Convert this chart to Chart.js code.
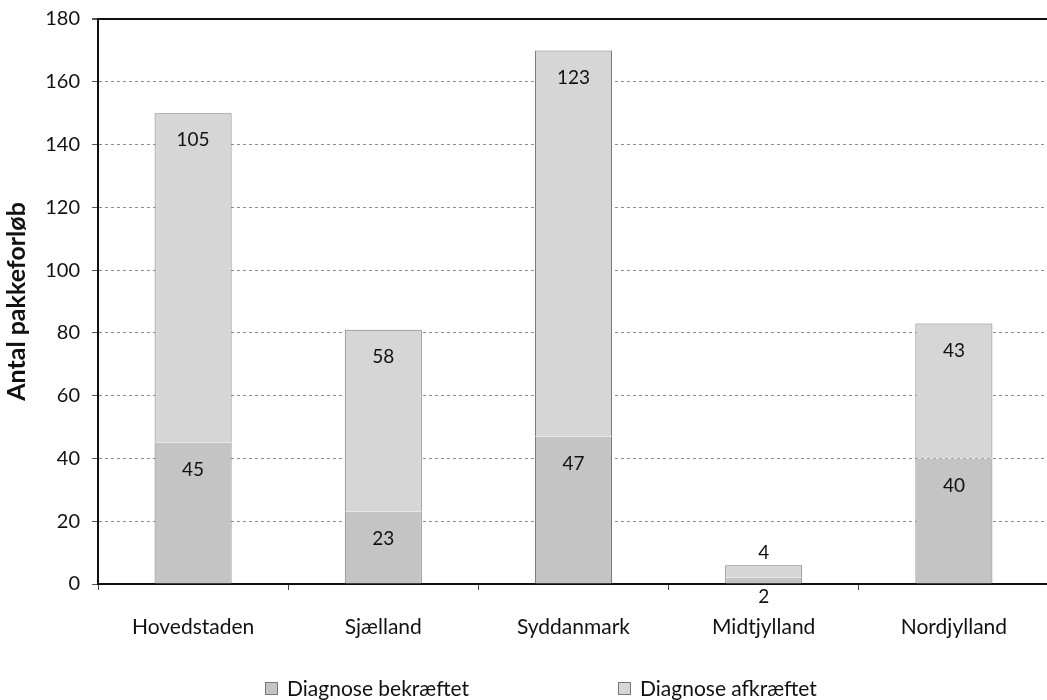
<!DOCTYPE html>
<html>
<head>
<meta charset="utf-8">
<script src="https://cdn.jsdelivr.net/npm/chart.js@4.4.0/dist/chart.umd.min.js"></script>
<style>
  html, body { margin: 0; padding: 0; background: #fff; overflow: hidden; }
  #wrap { position: relative; width: 1047px; height: 700px; overflow: hidden; }
  #c { position: absolute; left: 0; top: -5px; }
  .lg { position: absolute; top: 676px; font-family: Lato, sans-serif; font-size: 21px;
        color: #111; white-space: nowrap; line-height: 24px; }
  .lg i { position: absolute; top: 6px; width: 11px; height: 11px; border: 1px solid #777; }
</style>
</head>
<body>
<div id="wrap">
  <canvas id="c" width="1060" height="705"></canvas>
  <div id="legend"></div>
</div>
<script>
// data
const regions = ['Hovedstaden', 'Sjælland', 'Syddanmark', 'Midtjylland', 'Nordjylland'];
const confirmed = [45, 23, 47, 2, 40];     // Diagnose bekræftet
const rejected  = [105, 58, 123, 4, 43];   // Diagnose afkræftet
const seriesNames = ['Diagnose bekræftet', 'Diagnose afkræftet'];
const yMax = 180;
const yStep = 20;

const FILL = ['#c4c4c4', '#d6d6d6'];
const EDGE = '#7a7a7a';
const FONT = 'Lato';

// Excel style "inside end" value labels; tiny segments get pushed outside
const valueLabels = {
  id: 'valueLabels',
  afterDatasetsDraw(chart) {
    const ctx = chart.ctx;
    ctx.save();
    ctx.font = '19px ' + FONT;
    ctx.fillStyle = '#111';
    ctx.textAlign = 'center';
    ctx.textBaseline = 'middle';
    chart.data.datasets.forEach((ds, di) => {
      chart.getDatasetMeta(di).data.forEach((bar, i) => {
        const p = bar.getProps(['x', 'y', 'base'], true);
        const h = p.base - p.y;
        let ly;
        if (h >= 40) ly = p.y + 27;
        else if (di === 0) ly = p.base + 13;
        else ly = p.y - 12;
        ctx.fillText(String(ds.data[i]), p.x, ly);
      });
    });
    ctx.restore();
  }
};

const chart = new Chart(document.getElementById('c'), {
  type: 'bar',
  data: {
    labels: regions,
    datasets: [
      {
        label: seriesNames[0],
        data: confirmed,
        backgroundColor: FILL[0],
        borderColor: EDGE,
        borderWidth: { left: 1, right: 1, top: 0, bottom: 0 },
        borderSkipped: false,
        barPercentage: 0.405,
        categoryPercentage: 1,
      },
      {
        label: seriesNames[1],
        data: rejected,
        backgroundColor: FILL[1],
        borderColor: EDGE,
        borderWidth: { left: 1, right: 1, top: 1, bottom: 0 },
        borderSkipped: false,
        barPercentage: 0.405,
        categoryPercentage: 1,
      },
    ],
  },
  options: {
    responsive: false,
    animation: false,
    layout: { padding: { top: 12, right: 11, bottom: 0, left: 0 } },
    plugins: {
      legend: { display: false },
      tooltip: { enabled: false },
    },
    scales: {
      x: {
        stacked: true,
        border: { display: true, color: '#111', width: 2 },
        grid: { drawOnChartArea: false, drawTicks: true, tickLength: 6, tickColor: '#444', offset: true },
        ticks: { color: '#111', font: { family: FONT, size: 21 }, padding: 25, maxRotation: 0 },
        afterFit: s => { s.height = 116; },
      },
      y: {
        stacked: true,
        min: 0,
        max: yMax,
        border: {
          display: true, color: '#111', width: 2,
          dash: c => (c.tick && c.tick.value === yMax) ? [] : [3, 3],
        },
        grid: {
          color: c => (c.tick && c.tick.value === yMax) ? '#111' : '#8c8c8c',
          lineWidth: c => (c.tick && c.tick.value === yMax) ? 2 : 1,
          tickLength: 6,
          tickColor: '#555',
        },
        ticks: { stepSize: yStep, color: '#111', font: { family: FONT, size: 20 }, padding: 12 },
        title: {
          display: true,
          text: 'Antal pakkeforløb',
          color: '#111',
          font: { family: FONT, size: 25, weight: 'bold' },
          padding: { top: 2, bottom: 0 },
        },
        afterFit: s => { s.width = 98; },
      },
    },
  },
  plugins: [valueLabels],
});

// legend drawn as html so the two entries can sit where the scan has them
const legendPos = [265, 618];
document.getElementById('legend').innerHTML = chart.data.datasets.map((ds, i) =>
  `<div class="lg" style="left:${legendPos[i]}px"><i style="left:0;background:${ds.backgroundColor}"></i>` +
  `<span style="margin-left:22px">${ds.label}</span></div>`
).join('');
</script>
</body>
</html>
